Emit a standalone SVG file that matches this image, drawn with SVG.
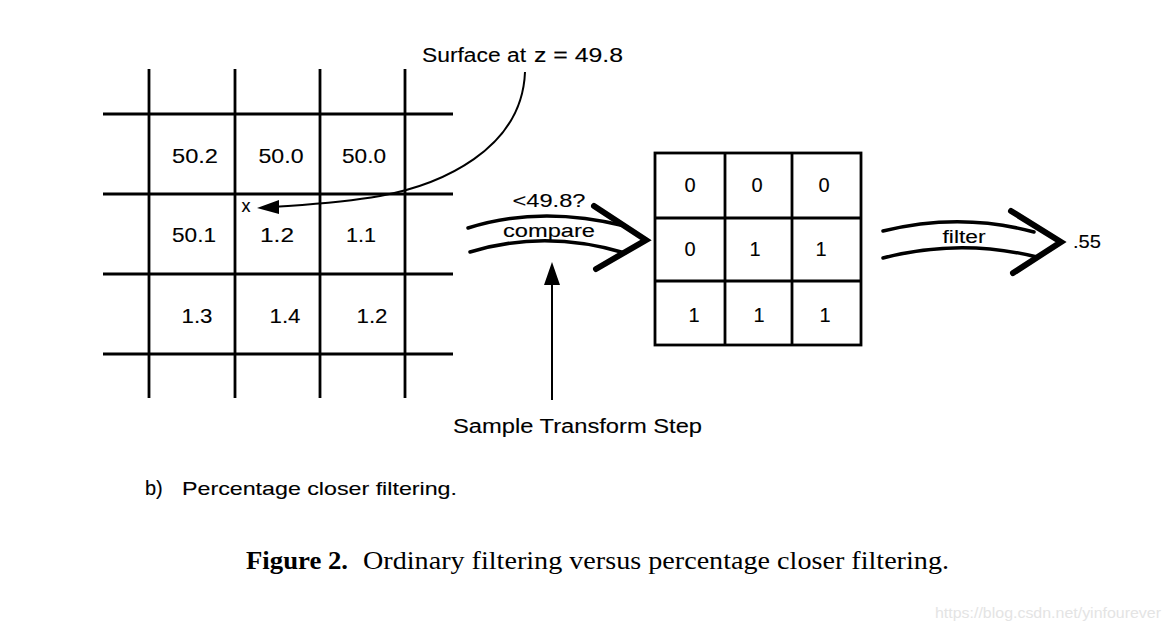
<svg xmlns="http://www.w3.org/2000/svg" width="1170" height="631" viewBox="0 0 1170 631">
<style>
.s{font-family:"Liberation Sans",Arial,sans-serif;fill:#000;stroke:#000;stroke-width:0.12;}
.n{font-size:21px;text-anchor:middle;}
.b{font-size:20px;text-anchor:middle;}
.cap{font-family:"Liberation Serif","Times New Roman",serif;font-size:26px;fill:#000;}
.grid{stroke:#000;stroke-width:2.8;fill:none;}
.shaft{stroke:#000;stroke-width:3.5;fill:none;stroke-linecap:round;}
.chev{stroke:#000;stroke-width:6;fill:none;stroke-linecap:round;stroke-linejoin:miter;}
.ln{stroke:#000;stroke-width:2;fill:none;}
</style>
<rect width="1170" height="631" fill="#fff"/>

<g id="depth-map">
  <g class="grid">
    <line x1="149" y1="69" x2="149" y2="398"/>
    <line x1="235" y1="69" x2="235" y2="398"/>
    <line x1="320" y1="69" x2="320" y2="398"/>
    <line x1="405" y1="69" x2="405" y2="398"/>
    <line x1="103" y1="114" x2="453" y2="114"/>
    <line x1="103" y1="194" x2="453" y2="194"/>
    <line x1="103" y1="274" x2="453" y2="274"/>
    <line x1="103" y1="354" x2="453" y2="354"/>
  </g>
  <text class="s n" x="195" y="163" textLength="46" lengthAdjust="spacingAndGlyphs">50.2</text>
  <text class="s n" x="281" y="163" textLength="45" lengthAdjust="spacingAndGlyphs">50.0</text>
  <text class="s n" x="364" y="163" textLength="44" lengthAdjust="spacingAndGlyphs">50.0</text>
  <text class="s n" x="194" y="242" textLength="44" lengthAdjust="spacingAndGlyphs">50.1</text>
  <text class="s n" x="277" y="242" textLength="34" lengthAdjust="spacingAndGlyphs">1.2</text>
  <text class="s n" x="361" y="242" textLength="30" lengthAdjust="spacingAndGlyphs">1.1</text>
  <text class="s n" x="197" y="323" textLength="31" lengthAdjust="spacingAndGlyphs">1.3</text>
  <text class="s n" x="285" y="323" textLength="31" lengthAdjust="spacingAndGlyphs">1.4</text>
  <text class="s n" x="372" y="323" textLength="31" lengthAdjust="spacingAndGlyphs">1.2</text>
  <text class="s" x="246" y="212" font-size="18" text-anchor="middle">x</text>
</g>

<g id="surface-label">
  <text class="s" x="422" y="62" font-size="20" textLength="104" lengthAdjust="spacingAndGlyphs">Surface at</text>
  <text class="s" x="534" y="62" font-size="20" textLength="89" lengthAdjust="spacingAndGlyphs">z = 49.8</text>
</g>

<g id="result-map">
  <rect class="grid" x="655" y="153" width="206" height="192"/>
  <g class="grid">
    <line x1="725" y1="153" x2="725" y2="345"/>
    <line x1="792" y1="153" x2="792" y2="345"/>
    <line x1="655" y1="218" x2="861" y2="218"/>
    <line x1="655" y1="281" x2="861" y2="281"/>
  </g>
  <text class="s b" x="690" y="192">0</text>
  <text class="s b" x="757" y="192">0</text>
  <text class="s b" x="824" y="192">0</text>
  <text class="s b" x="690" y="256">0</text>
  <text class="s b" x="755" y="256">1</text>
  <text class="s b" x="821" y="256">1</text>
  <text class="s b" x="694" y="322">1</text>
  <text class="s b" x="759" y="322">1</text>
  <text class="s b" x="825" y="322">1</text>
</g>

<g id="compare-arrow">
  <path class="shaft" d="M468,228 Q540,205 625,226"/>
  <path class="shaft" d="M470,252 Q545,229 625,253"/>
  <polyline class="chev" points="594,206 646,240 596,269"/>
  <text class="s" x="549" y="207" font-size="19" text-anchor="middle" textLength="73" lengthAdjust="spacingAndGlyphs">&lt;49.8?</text>
  <text class="s" x="549" y="237" font-size="18" text-anchor="middle" textLength="92" lengthAdjust="spacingAndGlyphs">compare</text>
</g>

<g id="filter-arrow">
  <path class="shaft" d="M883,231 Q960,212 1034,232"/>
  <path class="shaft" d="M883,258 Q960,238 1037,257"/>
  <polyline class="chev" points="1011,211 1061,242 1013,273"/>
  <text class="s" x="964" y="243" font-size="18" text-anchor="middle" textLength="43" lengthAdjust="spacingAndGlyphs">filter</text>
</g>

<g id="result-value">
  <text class="s" x="1073" y="248" font-size="19" textLength="28" lengthAdjust="spacingAndGlyphs">.55</text>
</g>

<g id="sample-step">
  <text class="s" x="453" y="433" font-size="20" textLength="249" lengthAdjust="spacingAndGlyphs">Sample Transform Step</text>
</g>

<g id="connectors">
  <path class="ln" d="M525,72 C522,150 440,185 380,196 C340,203 300,205 274,207"/>
  <polygon points="257,208 279,200 279,214" fill="#000"/>
  <line class="ln" x1="552" y1="400" x2="552" y2="282"/>
  <polygon points="552,262 544,285 560,285" fill="#000"/>
</g>

<g id="subcaption">
  <text class="s" x="145" y="495" font-size="20">b)</text>
  <text class="s" x="182" y="495" font-size="19" textLength="275" lengthAdjust="spacingAndGlyphs">Percentage closer filtering.</text>
</g>

<g id="caption">
  <text class="cap" x="246" y="569" font-weight="bold" textLength="102" lengthAdjust="spacingAndGlyphs">Figure 2.</text>
  <text class="cap" x="363" y="569" textLength="586" lengthAdjust="spacingAndGlyphs">Ordinary filtering versus percentage closer filtering.</text>
</g>

<g id="watermark">
  <text x="935" y="618" font-family="Liberation Sans,Arial,sans-serif" font-size="15" fill="#e4e4e4" textLength="226" lengthAdjust="spacingAndGlyphs">https://blog.csdn.net/yinfourever</text>
</g>
</svg>
